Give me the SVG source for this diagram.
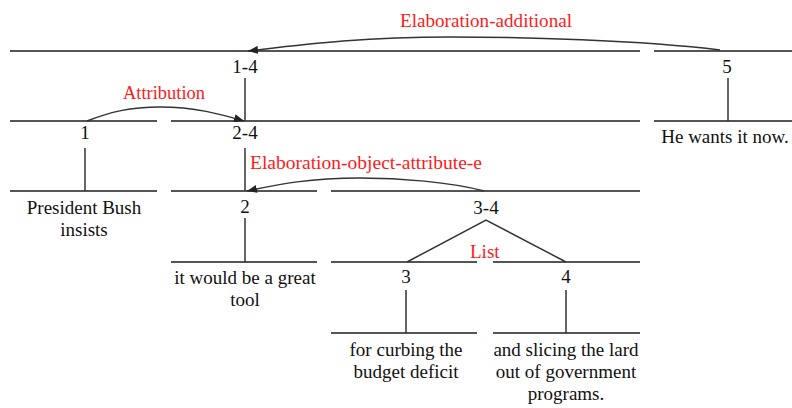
<svg xmlns="http://www.w3.org/2000/svg" width="792" height="408" viewBox="0 0 792 408">
<style>
.span{stroke:#555;stroke-width:2;fill:none}
.stem{stroke:#333;stroke-width:1.5;fill:none}
.arc{stroke:#333;stroke-width:1.5;fill:none}
text{font-family:"Liberation Serif","Times New Roman",serif;font-size:19px;fill:#111;text-anchor:middle}
.rel{fill:#ff1a1a;text-anchor:start}
</style>
<defs>
<marker id="ah" viewBox="0 0 10 8" refX="10" refY="4" markerWidth="10" markerHeight="8" markerUnits="userSpaceOnUse" orient="auto">
<path d="M0,0 L10,4 L0,8 Z" fill="#222"/>
</marker>
</defs>
<rect width="792" height="408" fill="#fff"/>
<g id="n1-4"><line class="span" x1="10" y1="51" x2="640" y2="51"/><text x="245" y="73">1-4</text></g>
<g id="n5"><line class="span" x1="654" y1="51" x2="792" y2="51"/><text x="727" y="73">5</text></g>
<g id="n1"><line class="span" x1="10" y1="121" x2="157" y2="121"/><text x="85" y="139">1</text></g>
<g id="n2-4"><line class="span" x1="171" y1="121" x2="640" y2="121"/><text x="245" y="139">2-4</text></g>
<g id="leaf5"><line class="span" x1="654" y1="121" x2="792" y2="121"/><text x="725" y="143">He wants it now.</text></g>
<g id="leaf1"><line class="span" x1="10" y1="191" x2="157" y2="191"/><text x="84" y="214">President Bush</text><text x="84" y="236">insists</text></g>
<g id="n2"><line class="span" x1="171" y1="191" x2="317" y2="191"/><text x="245" y="213">2</text></g>
<g id="n3-4"><line class="span" x1="331" y1="191" x2="640" y2="191"/><text x="486" y="214">3-4</text></g>
<g id="leaf2"><line class="span" x1="171" y1="262" x2="317" y2="262"/><text x="245" y="284">it would be a great</text><text x="245" y="306">tool</text></g>
<g id="n3"><line class="span" x1="331" y1="262" x2="477" y2="262"/><text x="406" y="283">3</text></g>
<g id="n4"><line class="span" x1="493" y1="262" x2="640" y2="262"/><text x="566" y="283">4</text></g>
<g id="leaf3"><line class="span" x1="331" y1="333" x2="477" y2="333"/><text x="406" y="356">for curbing the</text><text x="406" y="378">budget deficit</text></g>
<g id="leaf4"><line class="span" x1="493" y1="333" x2="640" y2="333"/><text x="566" y="356">and slicing the lard</text><text x="566" y="378">out of government</text><text x="566" y="400">programs.</text></g>
<g id="connectors">
<line class="stem" x1="245" y1="78" x2="245" y2="121"/>
<line class="stem" x1="728" y1="78" x2="728" y2="121"/>
<line class="stem" x1="85" y1="148" x2="85" y2="191"/>
<line class="stem" x1="245" y1="148" x2="245" y2="191"/>
<line class="stem" x1="245" y1="218" x2="245" y2="262"/>
<polyline class="stem" points="407,262 486,220 566,262"/>
<line class="stem" x1="406" y1="290" x2="406" y2="333"/>
<line class="stem" x1="566" y1="290" x2="566" y2="333"/>
<path class="arc" d="M720,50 C640,40 520,37 450,37 C360,37 300,45 248,51" marker-end="url(#ah)"/>
<path class="arc" d="M87,121 C110,112 130,107 160,107 C195,107 220,114 244,121" marker-end="url(#ah)"/>
<path class="arc" d="M484,191 C450,182 400,178 360,178 C310,178 280,184 247,191" marker-end="url(#ah)"/>
<text class="rel" x="400" y="27" textLength="172" lengthAdjust="spacingAndGlyphs">Elaboration-additional</text>
<text class="rel" x="123" y="99" textLength="82" lengthAdjust="spacingAndGlyphs">Attribution</text>
<text class="rel" x="250" y="169" textLength="232" lengthAdjust="spacingAndGlyphs">Elaboration-object-attribute-e</text>
<text class="rel" x="470" y="258">List</text>
</g>
</svg>
